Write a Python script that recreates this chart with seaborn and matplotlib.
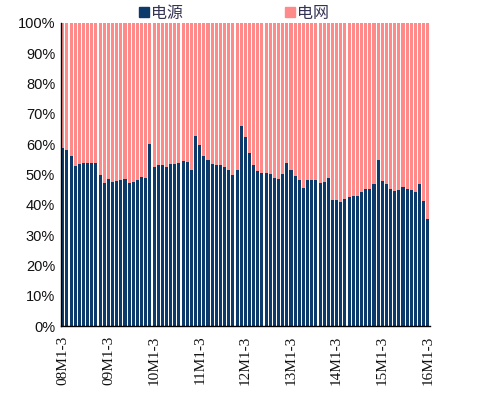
import matplotlib
matplotlib.use("Agg")
import matplotlib.pyplot as plt
import seaborn as sns
import pandas as pd
from matplotlib.lines import Line2D
from matplotlib.ticker import FixedLocator

# ---- data ----
years = ["08", "09", "10", "11", "12", "13", "14", "15", "16"]
categories = []
for y in years:
    if y == "08":
        ends = range(3, 13)
    elif y == "16":
        ends = range(2, 4)
    else:
        ends = range(2, 13)
    categories += [f"{y}M1-{e}" for e in ends]

power_share = [58.8, 57.9, 56.0, 52.6, 53.3, 53.6, 53.7, 53.9, 53.6, 49.7,
               47.0, 48.6, 47.5, 47.9, 48.3, 48.4, 47.0, 47.5, 48.0, 49.2,
               48.9, 59.9, 52.3, 53.2, 53.0, 52.3, 53.3, 53.5, 53.6, 54.3,
               54.1, 51.4, 62.8, 59.6, 55.9, 54.7, 53.5, 53.0, 53.1, 52.3,
               51.5, 49.8, 51.3, 66.1, 62.4, 57.1, 53.0, 51.0, 50.4, 50.4,
               50.0, 48.8, 48.5, 50.2, 53.7, 51.3, 49.3, 48.2, 45.6, 48.0,
               48.0, 48.1, 47.1, 47.5, 48.8, 41.4, 41.4, 40.9, 41.8, 42.4,
               42.8, 42.8, 44.3, 45.2, 45.3, 46.8, 54.6, 47.7, 46.7, 45.2,
               44.4, 44.7, 45.7, 45.1, 44.7, 44.2, 46.9, 41.1, 35.4]
grid_share = [round(100 - v, 1) for v in power_share]
series_names = ["电源", "电网"]
tick_labels = ["08M1-3", "09M1-3", "10M1-3", "11M1-3", "12M1-3",
               "13M1-3", "14M1-3", "15M1-3", "16M1-3"]

navy = "#0B3A6B"
pink = "#FF8A8A"

df = pd.DataFrame({"cat": categories, "power": power_share, "grid": grid_share})
df["total"] = df["power"] + df["grid"]

sns.set_style("white")
plt.rcParams["font.family"] = ["Noto Sans CJK SC", "DejaVu Sans"]

fig = plt.figure(figsize=(4.79, 3.98), dpi=100)
ax = fig.add_axes([0.1267, 0.1809, 0.771, 0.7621])

sns.barplot(data=df, x="cat", y="total", color=pink, width=0.74,
            saturation=1, ax=ax, edgecolor="none")
sns.barplot(data=df, x="cat", y="power", color=navy, width=0.74,
            saturation=1, ax=ax, edgecolor="none")

n = len(categories)
ax.set_xlim(-0.5, n - 0.5)
ax.set_ylim(0, 100)
ax.set_yticks(range(0, 101, 10))
ax.set_yticklabels([f"{v}%" for v in range(0, 101, 10)],
                   fontsize=10.5, family=["Liberation Sans", "DejaVu Sans"], color="#111111")
pos = [categories.index(t) for t in tick_labels]
ax.set_xticks(pos)
ax.set_xticklabels(tick_labels, rotation=90, fontsize=11,
                   family=["Liberation Serif", "DejaVu Serif"], color="#111111")
ax.xaxis.set_minor_locator(FixedLocator([i + 0.5 for i in range(8, n - 1, 9)]))
ax.tick_params(axis="x", which="major", length=0, pad=7)
ax.tick_params(axis="x", which="minor", length=3.5, direction="in", width=0.8, color="black")
ax.tick_params(axis="y", which="major", length=4.5, direction="in", width=0.8, color="black", pad=4)
ax.set_xlabel("")
ax.set_ylabel("")

for s in ["top", "right"]:
    ax.spines[s].set_visible(False)
for s in ["left", "bottom"]:
    ax.spines[s].set_color("black")
    ax.spines[s].set_linewidth(1.0)

handles = [Line2D([], [], marker="s", linestyle="none", color=navy, markersize=6.5),
           Line2D([], [], marker="s", linestyle="none", color=pink, markersize=6.5)]
ax.legend(handles, series_names, loc="center", bbox_to_anchor=(0.468, 1.031),
          ncol=2, frameon=False, fontsize=11.5, columnspacing=6.3,
          handletextpad=0.05, handlelength=0.8, labelcolor="#333355",
          borderaxespad=0)

fig.savefig("out.png", dpi=100)
